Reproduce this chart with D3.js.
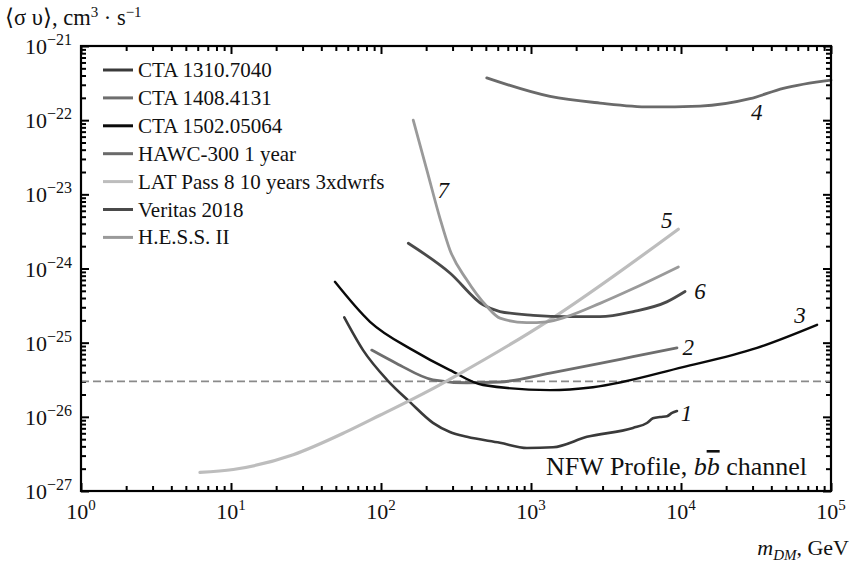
<!DOCTYPE html>
<html><head><meta charset="utf-8">
<script src="https://cdn.jsdelivr.net/npm/d3@7"></script>
<style>
body{margin:0;background:#fff}
svg text{font-family:"Liberation Serif","Times New Roman",serif;fill:#111}
</style>
</head><body>
<svg id="c" width="852" height="563"></svg>
<script>
// ---------- data ----------
const seriesNames = ["CTA 1310.7040","CTA 1408.4131","CTA 1502.05064","HAWC-300 1 year","LAT Pass 8 10 years 3xdwrfs","Veritas 2018","H.E.S.S. II"];
const seriesColors = ["#3a3a3a","#6e6e6e","#0a0a0a","#6a6a6a","#bdbdbd","#4a4a4a","#9a9a9a"];
const curveLabels = ["1","2","3","4","5","6","7"];

const cta1310_m  = [56.9,75.9,109.6,156,222,288,374,621,940,1403,2360,4786,5930,6501,7244,8072,8710,9397];
const cta1310_sv = [2.19e-25,7.94e-26,3.16e-26,1.58e-26,8.3e-27,6.25e-27,5.37e-27,4.47e-27,3.80e-27,3.89e-27,5.37e-27,7.08e-27,8.26e-27,9.55e-27,9.95e-27,1.02e-26,1.13e-26,1.20e-26];

const cta1408_m  = [86.7,127,222,374,621,1340,2884,4786,9397];
const cta1408_sv = [7.94e-26,5.25e-26,3.16e-26,2.88e-26,2.95e-26,3.89e-26,5.25e-26,6.46e-26,8.51e-26];

const cta1502_m  = [49.3,84.5,163,288,479,1340,2588,10300,32140,80700];
const cta1502_sv = [6.61e-25,1.91e-25,7.94e-26,4.27e-26,2.69e-26,2.29e-26,2.51e-26,4.68e-26,8.51e-26,1.74e-25];

const hawc_m  = [507,1340,2884,6209,13400,28840,48080,100000];
const hawc_sv = [3.72e-22,2.09e-22,1.70e-22,1.51e-22,1.55e-22,1.95e-22,2.69e-22,3.47e-22];

const lat_m  = [6.21,10.35,26.0,59.0,98.4,212,320,1274,9594];
const lat_sv = [1.78e-27,1.95e-27,3.09e-27,6.31e-27,1.05e-26,2.29e-26,3.63e-26,1.91e-25,3.39e-24];

const veritas_m  = [152,288,479,621,1035,1730,2884,4808,8035,10640];
const veritas_sv = [2.19e-24,8.71e-25,3.24e-25,2.63e-25,2.34e-25,2.24e-25,2.24e-25,2.63e-25,3.55e-25,4.90e-25];

const hess_m  = [164,202,247,288,372,507,621,935,1274,1730,2884,4808,9594];
const hess_sv = [1.0e-22,2.14e-23,4.79e-24,1.78e-24,7.08e-25,3.09e-25,2.14e-25,1.86e-25,1.91e-25,2.24e-25,3.39e-25,5.37e-25,1.05e-24];

const thermalRelic = 3e-26;
const xDecades = [0,1,2,3,4,5];
const yDecades = [-27,-26,-25,-24,-23,-22,-21];
// curve number label anchors (mass, <sigma v>)
const labelM  = [10900,11190,62100,31990,8030,13390,260];
const labelSV = [1.12e-26,8.83e-26,2.36e-25,1.30e-22,4.51e-24,5.02e-25,1.15e-23];

// ---------- layout ----------
const svg = d3.select("#c");
const L = 81, R = 831, T = 46, B = 491;
const x = d3.scaleLog().domain([1,1e5]).range([L,R]);
const y = d3.scaleLog().domain([1e-27,1e-21]).range([B,T]);

const series = [
  {m:cta1310_m, v:cta1310_sv, w:2.6},
  {m:cta1408_m, v:cta1408_sv, w:2.8},
  {m:cta1502_m, v:cta1502_sv, w:2.4},
  {m:hawc_m, v:hawc_sv, w:2.8},
  {m:lat_m, v:lat_sv, w:3.2},
  {m:veritas_m, v:veritas_sv, w:2.8},
  {m:hess_m, v:hess_sv, w:2.8}
];

// ticks
const majorX = xDecades.map(d=>Math.pow(10,d));
const minorX = []; xDecades.slice(0,-1).forEach(d=>{for(let k=2;k<10;k++)minorX.push(k*Math.pow(10,d));});
const majorY = yDecades.map(d=>Math.pow(10,d));
const minorY = []; yDecades.slice(0,-1).forEach(d=>{for(let k=2;k<10;k++)minorY.push(k*Math.pow(10,d));});

function addAxis(gen, tr, vals, len){
  const g = svg.append("g").attr("transform",tr)
    .call(gen.tickValues(vals).tickSizeInner(-len).tickSizeOuter(0).tickFormat(""));
  g.select(".domain").remove();
  g.selectAll(".tick line").attr("stroke","#000").attr("stroke-width",2);
}
addAxis(d3.axisBottom(x), `translate(0,${B})`, majorX, 8);
addAxis(d3.axisBottom(x), `translate(0,${B})`, minorX, 5);
addAxis(d3.axisTop(x), `translate(0,${T})`, majorX, 8);
addAxis(d3.axisTop(x), `translate(0,${T})`, minorX, 5);
addAxis(d3.axisLeft(y), `translate(${L},0)`, majorY, 8);
addAxis(d3.axisLeft(y), `translate(${L},0)`, minorY, 5);
addAxis(d3.axisRight(y), `translate(${R},0)`, majorY, 8);
addAxis(d3.axisRight(y), `translate(${R},0)`, minorY, 5);

// tick labels
xDecades.forEach(d=>{
  const t = svg.append("text").attr("x",x(Math.pow(10,d))).attr("y",B+28)
    .attr("text-anchor","middle").attr("font-size",22);
  t.append("tspan").text("10");
  t.append("tspan").attr("font-size",15).attr("dy",-9).text(String(d));
});
yDecades.forEach(d=>{
  const t = svg.append("text").attr("x",L-9).attr("y",y(Math.pow(10,d))+8)
    .attr("text-anchor","end").attr("font-size",22);
  t.append("tspan").text("10");
  t.append("tspan").attr("font-size",16).attr("dy",-9).text("\u2212"+Math.abs(d));
});

// thermal relic dashed line
svg.append("line").attr("x1",L).attr("x2",R).attr("y1",y(thermalRelic)).attr("y2",y(thermalRelic))
  .attr("stroke","#8a8a8a").attr("stroke-width",1.8).attr("stroke-dasharray","8,4");

// curves
series.forEach((s,i)=>{
  const pts = s.m.map((m,j)=>[m,s.v[j]]);
  svg.append("path").datum(pts)
    .attr("d", d3.line().x(d=>x(d[0])).y(d=>y(d[1])).curve(d3.curveMonotoneX))
    .attr("fill","none").attr("stroke",seriesColors[i]).attr("stroke-width",s.w)
    .attr("stroke-linejoin","round").attr("stroke-linecap","round");
});

// curve number labels
curveLabels.forEach((lab,i)=>{
  svg.append("text").attr("x",x(labelM[i])).attr("y",y(labelSV[i])+8)
    .attr("text-anchor","middle").attr("font-size",23).attr("font-style","italic").text(lab);
});

// frame
svg.append("rect").attr("x",L).attr("y",T).attr("width",R-L).attr("height",B-T)
  .attr("fill","none").attr("stroke","#000").attr("stroke-width",2.2);

// legend
seriesNames.forEach((n,i)=>{
  const yy = 70 + i*27.9;
  svg.append("line").attr("x1",103).attr("x2",133).attr("y1",yy).attr("y2",yy)
    .attr("stroke",seriesColors[i]).attr("stroke-width",3);
  svg.append("text").attr("x",138).attr("y",yy+7).attr("font-size",21).text(n);
});

// NFW annotation
const nfw = svg.append("text").attr("x",R-24).attr("y",475).attr("text-anchor","end").attr("font-size",26);
nfw.append("tspan").text("NFW Profile, ");
nfw.append("tspan").attr("font-style","italic").text("b");
nfw.append("tspan").attr("font-style","italic").attr("text-decoration","overline").text("b");
nfw.append("tspan").text(" channel");

// axis titles
const yt = svg.append("text").attr("x",5).attr("y",25).attr("font-size",22.5);
yt.append("tspan").text("\u27E8\u03C3 \u03C5\u27E9, cm");
yt.append("tspan").attr("font-size",15).attr("dy",-8).text("3");
yt.append("tspan").attr("dy",8).text(" \u00B7 s");
yt.append("tspan").attr("font-size",15).attr("dy",-8).text("\u22121");

const xt = svg.append("text").attr("x",849).attr("y",555).attr("text-anchor","end").attr("font-size",22);
xt.append("tspan").attr("font-style","italic").text("m");
xt.append("tspan").attr("font-style","italic").attr("font-size",15).attr("dy",5).text("DM");
xt.append("tspan").attr("dy",-5).text(", GeV");
</script>
</body></html>
